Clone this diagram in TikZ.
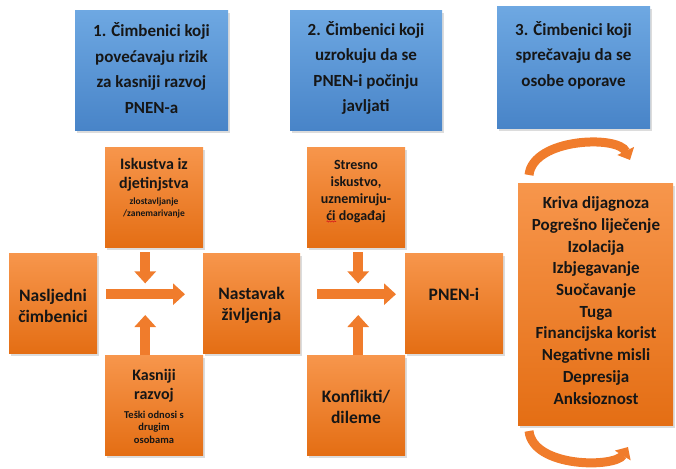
\documentclass[tikz,border=0pt]{standalone}
\usepackage{fontspec}
\setmainfont{Carlito}
\usetikzlibrary{shadows,arrows.meta,decorations.pathmorphing}
\definecolor{orTop}{RGB}{247,150,76}
\definecolor{orBot}{RGB}{228,110,20}
\definecolor{blTop}{RGB}{110,168,226}
\definecolor{blBot}{RGB}{72,132,200}
\definecolor{arrOr}{RGB}{240,124,44}
\definecolor{txt}{RGB}{22,22,22}
\definecolor{squig}{RGB}{215,30,30}
\begin{document}
\begin{tikzpicture}[x=1pt,y=-1pt,
  shbox/.style={rectangle, anchor=north west, inner sep=0pt, draw=none,
    drop shadow={shadow xshift=2pt,shadow yshift=-2.5pt,opacity=0.28}},
  obox/.style={shbox, top color=orTop, bottom color=orBot},
  bbox/.style={shbox, top color=blTop, bottom color=blBot},
  tx/.style={align=center, text=txt, inner sep=0pt},
  fBlue/.style={tx, font=\fontsize{17}{25.5}\selectfont\bfseries},
  fBig/.style={tx, font=\fontsize{17.5}{21}\selectfont\bfseries},
  fMid/.style={tx, font=\fontsize{16}{19}\selectfont\bfseries},
  fSmall/.style={tx, font=\fontsize{9.5}{11.5}\selectfont\bfseries},
  fSmallB/.style={tx, font=\fontsize{10.5}{12.5}\selectfont\bfseries},
  fStres/.style={tx, font=\fontsize{14}{17}\selectfont\bfseries},
  fList/.style={tx, font=\fontsize{17}{21.7}\selectfont\bfseries},
  barrow/.style={draw=arrOr, line width=10pt, -{Triangle[length=12pt,width=21pt]}},
  carrow/.style={draw=arrOr, line width=9pt, -{Triangle[length=10pt,width=18pt]}}
]
\useasboundingbox (0,0) rectangle (676,468);

% blue header boxes
\node[bbox, minimum width=153pt, minimum height=120pt] (b1) at (75,10) {};
\node[bbox, minimum width=152pt, minimum height=120pt] (b2) at (290,10) {};
\node[bbox, minimum width=153pt, minimum height=122pt] (b3) at (497,6) {};
\node[fBlue] (b1t) at (151.5,68) {1. Čimbenici koji\\povećavaju rizik\\za kasniji razvoj\\PNEN-a};
\node[fBlue] (b2t) at (366,68) {2. Čimbenici koji\\uzrokuju da se\\PNEN-i počinju\\javljati};
\node[fBlue] (b3t) at (573.5,55) {3. Čimbenici koji\\sprečavaju da se\\osobe oporave};

% orange boxes
\node[obox, minimum width=88pt, minimum height=100pt] (nasl) at (9,253) {};
\node[obox, minimum width=98pt, minimum height=100pt] (isk) at (105,147) {};
\node[obox, minimum width=98pt, minimum height=100pt] (kas) at (105,355) {};
\node[obox, minimum width=97pt, minimum height=100pt] (nast) at (203,253) {};
\node[obox, minimum width=98pt, minimum height=100pt] (stres) at (307,147) {};
\node[obox, minimum width=98pt, minimum height=100pt] (konf) at (307,355) {};
\node[obox, minimum width=98pt, minimum height=100pt] (pnen) at (405,253) {};
\node[obox, minimum width=155pt, minimum height=242pt] (big) at (518,183) {};

\node[fBig] (naslT) at (53,305.5) {Nasljedni\\čimbenici};
\node[fMid] (iskT) at (154,175) {Iskustva iz\\djetinjstva};
\node[fSmall] (iskS) at (154,208) {zlostavljanje\\/zanemarivanje};
\node[fMid] (kasT) at (154,386) {Kasniji\\razvoj};
\node[fSmallB] (kasS) at (154,427) {Teški odnosi s\\drugim\\osobama};
\node[fBig] (nastT) at (251.5,305.5) {Nastavak\\življenja};
\node[fStres] (stresT) at (356,192) {Stresno\\iskustvo,\\uznemiruju-\\ći događaj};
\node[fBig] (konfT) at (356,407) {Konflikti/\\dileme};
\node[fBig] (pnenT) at (454,294) {PNEN-i};
\node[fList] (bigT) at (596,300.5) {Kriva dijagnoza\\Pogrešno liječenje\\Izolacija\\Izbjegavanje\\Suočavanje\\Tuga\\Financijska korist\\Negativne misli\\Depresija\\Anksioznost};

% spell-check squiggle under "ći"
\draw[squig, line width=0.6pt, decorate, decoration={snake, amplitude=0.6pt, segment length=2.4pt}]
  ([xshift=-29.5pt,yshift=2pt]stresT.south) -- ++(9.5,0);

% block arrows, group 1
\draw[barrow, shorten <=9pt, shorten >=18pt] ([yshift=9pt]nasl.east) -- ([yshift=9pt]nast.west);
\draw[barrow, shorten <=5pt] ([xshift=-9pt]isk.south) -- ++(0,36);
\draw[barrow] ([xshift=-9pt]kas.north) -- ++(0,-40);
% block arrows, group 2
\draw[barrow, shorten <=17pt, shorten >=9pt] ([yshift=9pt]nast.east) -- ([yshift=9pt]pnen.west);
\draw[barrow, shorten <=5pt] ([xshift=2pt]stres.south) -- ++(0,36);
\draw[barrow] ([xshift=2pt]konf.north) -- ++(0,-40);

% curved arrows around the list
\coordinate (ta) at (529,175);
\coordinate (tb) at (630,160);
\coordinate (ba) at (529,431);
\coordinate (bb) at (628,447);
\draw[carrow] (ta) .. controls (533,138) and (618,135) .. (tb);
\draw[carrow] (ba) .. controls (533,468) and (615,468) .. (bb);
\end{tikzpicture}
\end{document}
